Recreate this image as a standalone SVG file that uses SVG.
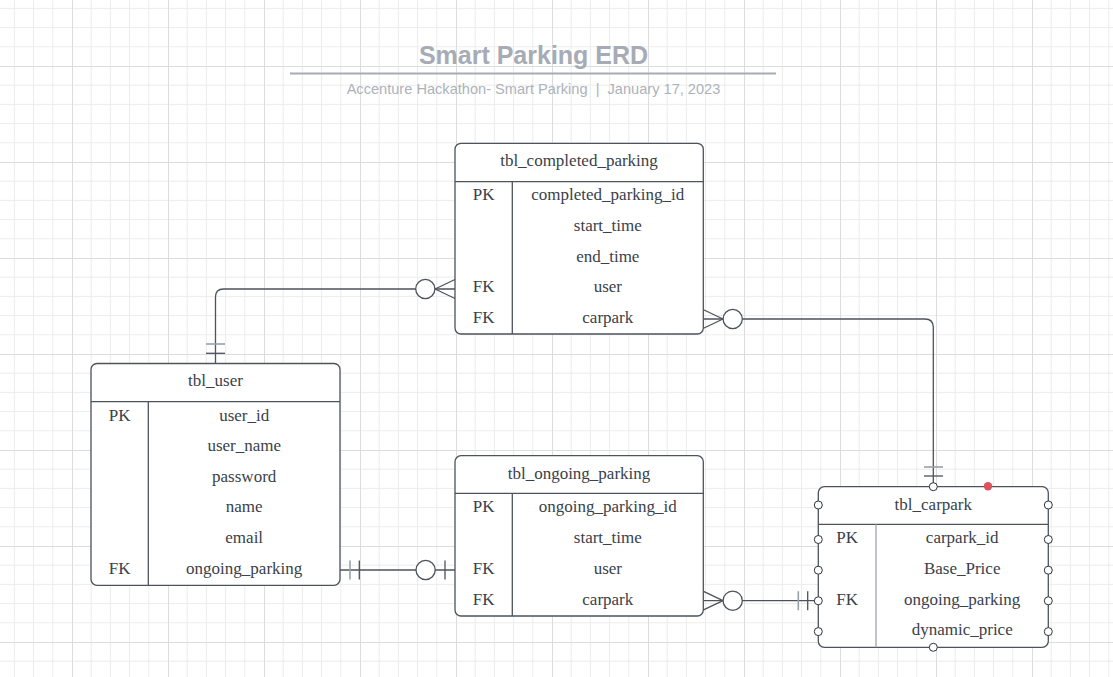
<svg xmlns="http://www.w3.org/2000/svg" width="1113" height="677" viewBox="0 0 1113 677">
<style>
.tb{fill:#ffffff;stroke:#4c535c;stroke-width:1.3}
.ln{fill:none;stroke:#4c535c;stroke-width:1.3}
.dv{fill:none;stroke:#4c535c;stroke-width:1.3}
.dvl{fill:none;stroke:#9ea3aa;stroke-width:1.3}
.t{font-family:"Liberation Serif","Times New Roman",serif;font-size:17px;fill:#3a414a;text-anchor:middle}
.cn{fill:none;stroke:#4c535c;stroke-width:1.3}
.cg{fill:none;stroke:#9aa0a8;stroke-width:1.6}
.ci{fill:#ffffff;stroke:#4c535c;stroke-width:1.3}
.pt{fill:#ffffff;stroke:#2f343a;stroke-width:1}
</style>
<defs>
<pattern id="grid" patternUnits="userSpaceOnUse" x="-24" y="-30" width="96" height="96">
<path d="M19.2 0V96M38.4 0V96M57.6 0V96M76.8 0V96M0 19.2H96M0 38.4H96M0 57.6H96M0 76.8H96" stroke="#ececec" stroke-width="1" fill="none"/>
<path d="M0.5 0V96M0 0.5H96" stroke="#dcdcdc" stroke-width="1" fill="none"/>
</pattern>
</defs>
<rect width="1113" height="677" fill="#ffffff"/>
<rect width="1113" height="677" fill="url(#grid)"/>

<g id="title">
<text x="533.5" y="64" style="font-family:'Liberation Sans',Arial,sans-serif;font-size:25px;font-weight:bold;fill:#a6abb5;text-anchor:middle">Smart Parking ERD</text>
<line x1="290" y1="73.5" x2="776" y2="73.5" stroke="#a6abb5" stroke-width="2"/>
<text x="533.5" y="94" xml:space="preserve" style="font-family:'Liberation Sans',Arial,sans-serif;font-size:14.6px;fill:#adb2ba;text-anchor:middle">Accenture Hackathon- Smart Parking  |  January 17, 2023</text>
</g>

<g id="connectors">
<path class="cn" d="M215.5 363.5V297Q215.5 289 223.5 289H455"/>
<path class="cn" d="M435 289L455 279.5M435 289L455 298.5"/>
<path class="cg" d="M206 344H225"/>
<path class="cn" d="M206 353.3H225"/>
<circle class="ci" cx="425.3" cy="289" r="9.6"/>

<path class="cn" d="M703 319H925Q933.3 319 933.3 327.3V486.7"/>
<path class="cn" d="M723 319L703 309.5M723 319L703 328.5"/>
<path class="cg" d="M924 467H943"/>
<path class="cn" d="M924 476H943"/>
<circle class="ci" cx="732.7" cy="319" r="9.6"/>

<path class="cn" d="M340 570H455"/>
<path class="cg" d="M350 560.5V579.5"/>
<path class="cn" d="M359.3 560.5V579.5"/>
<path class="cn" d="M445 560.5V579.5"/>
<circle class="ci" cx="425.6" cy="570" r="9.6"/>

<path class="cn" d="M703 600.7H818.3"/>
<path class="cn" d="M723 600.7L703 591.2M723 600.7L703 610.2"/>
<path class="cg" d="M798.3 591.2V610.2"/>
<path class="cn" d="M807.7 591.2V610.2"/>
<circle class="ci" cx="732.7" cy="600.7" r="9.6"/>
</g>

<g id="tbl_completed_parking">
<rect class="tb" x="455" y="143.3" width="248.3" height="190.7" rx="6"/>
<path class="dv" d="M455 181.7H703.3M512.3 181.7V334"/>
<text class="t" x="579" y="166">tbl_completed_parking</text>
<text class="t" x="483.6" y="200">PK</text>
<text class="t" x="607.8" y="200">completed_parking_id</text>
<text class="t" x="607.8" y="231">start_time</text>
<text class="t" x="607.8" y="261.5">end_time</text>
<text class="t" x="483.6" y="292">FK</text>
<text class="t" x="607.8" y="292">user</text>
<text class="t" x="483.6" y="322.5">FK</text>
<text class="t" x="607.8" y="322.5">carpark</text>
</g>

<g id="tbl_user">
<rect class="tb" x="91" y="363.5" width="249" height="221.8" rx="6"/>
<path class="dv" d="M91 401.7H340M148.3 401.7V585.3"/>
<text class="t" x="215.5" y="386">tbl_user</text>
<text class="t" x="119.6" y="420.5">PK</text>
<text class="t" x="244.2" y="420.5">user_id</text>
<text class="t" x="244.2" y="451">user_name</text>
<text class="t" x="244.2" y="481.5">password</text>
<text class="t" x="244.2" y="512">name</text>
<text class="t" x="244.2" y="542.5">email</text>
<text class="t" x="119.6" y="573.5">FK</text>
<text class="t" x="244.2" y="573.5">ongoing_parking</text>
</g>

<g id="tbl_ongoing_parking">
<rect class="tb" x="455" y="455.7" width="248.3" height="160.3" rx="6"/>
<path class="dv" d="M455 493.3H703.3M512.3 493.3V616"/>
<text class="t" x="579" y="478.5">tbl_ongoing_parking</text>
<text class="t" x="483.6" y="512">PK</text>
<text class="t" x="607.8" y="512">ongoing_parking_id</text>
<text class="t" x="607.8" y="543">start_time</text>
<text class="t" x="483.6" y="573.5">FK</text>
<text class="t" x="607.8" y="573.5">user</text>
<text class="t" x="483.6" y="604.5">FK</text>
<text class="t" x="607.8" y="604.5">carpark</text>
</g>

<g id="tbl_carpark">
<rect class="tb" x="818.3" y="486.7" width="230" height="160.6" rx="6"/>
<path class="dv" d="M818.3 524.3H1048.3"/>
<path class="dvl" d="M876 524.3V647.3"/>
<text class="t" x="933.3" y="509.5">tbl_carpark</text>
<text class="t" x="847.2" y="543">PK</text>
<text class="t" x="962.2" y="543">carpark_id</text>
<text class="t" x="962.2" y="574">Base_Price</text>
<text class="t" x="847.2" y="604.5">FK</text>
<text class="t" x="962.2" y="604.5">ongoing_parking</text>
<text class="t" x="962.2" y="635">dynamic_price</text>
<circle class="pt" cx="933.3" cy="486.7" r="4"/>
<circle class="pt" cx="933.3" cy="647.3" r="4"/>
<circle class="pt" cx="818.3" cy="505" r="4"/>
<circle class="pt" cx="818.3" cy="539.5" r="4"/>
<circle class="pt" cx="818.3" cy="570.2" r="4"/>
<circle class="pt" cx="818.3" cy="600.8" r="4"/>
<circle class="pt" cx="818.3" cy="631.6" r="4"/>
<circle class="pt" cx="1048.3" cy="505" r="4"/>
<circle class="pt" cx="1048.3" cy="539.5" r="4"/>
<circle class="pt" cx="1048.3" cy="570.2" r="4"/>
<circle class="pt" cx="1048.3" cy="600.8" r="4"/>
<circle class="pt" cx="1048.3" cy="631.6" r="4"/>
<circle cx="988" cy="486.2" r="4.2" fill="#e0505f"/>
</g>
</svg>
